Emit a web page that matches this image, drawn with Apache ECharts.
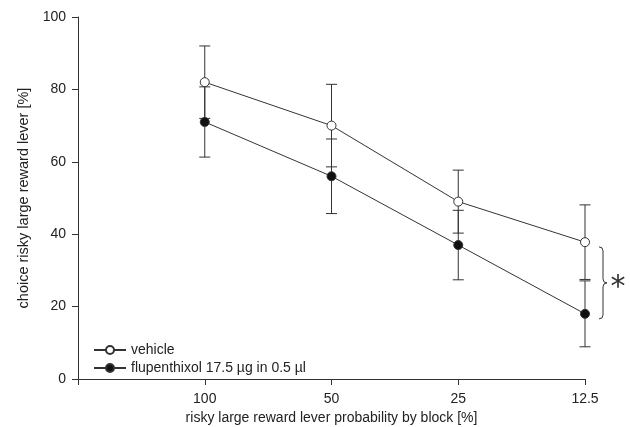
<!DOCTYPE html>
<html>
<head>
<meta charset="utf-8">
<script src="https://cdn.jsdelivr.net/npm/echarts@6/dist/echarts.min.js"></script>
<style>
  html, body { margin: 0; padding: 0; background: #fff; }
  #main { width: 630px; height: 427px; }
</style>
</head>
<body>
<div id="main"></div>
<script>
// probability blocks (x positions 1..4, 0 is left empty)
const probLabels = ['100', '50', '25', '12.5']
const vehicle = [82, 70, 49, 37.8]
const vehicleErr = [10, 11.4, 8.7, 10.3]
const flupenthixol = [71, 56, 37, 18]
const flupenthixolErr = [9.7, 10.3, 9.6, 9.1]
const yTicks = [0, 20, 40, 60, 80, 100]

const ink = '#333'
const font = 'Liberation Sans, Arial, sans-serif'

const pts = arr => arr.map((v, i) => [i + 1, v])
const errData = (vals, errs) => vals.map((v, i) => [i + 1, v - errs[i], v + errs[i]])

function errorBar(params, api) {
  const x = api.value(0)
  const lo = api.coord([x, api.value(1)])
  const hi = api.coord([x, api.value(2)])
  const w = 5.5
  const style = { stroke: ink, lineWidth: 1 }
  return {
    type: 'group',
    children: [
      { type: 'line', shape: { x1: lo[0], y1: lo[1], x2: hi[0], y2: hi[1] }, style },
      { type: 'line', shape: { x1: lo[0] - w, y1: lo[1], x2: lo[0] + w, y2: lo[1] }, style },
      { type: 'line', shape: { x1: hi[0] - w, y1: hi[1], x2: hi[0] + w, y2: hi[1] }, style }
    ]
  }
}

const myChart = echarts.init(document.getElementById('main'))
const option = {
  animation: false,
  textStyle: { fontFamily: font },
  grid: { left: 78, right: 45, top: 17, bottom: 48, outerBoundsMode: 'none' },
  legend: {
    orient: 'vertical',
    left: 88,
    top: 338,
    itemWidth: 32,
    itemHeight: 10,
    itemGap: 4,
    textStyle: { fontSize: 14, color: '#222', fontFamily: font },
    data: ['vehicle', 'flupenthixol 17.5 µg in 0.5 µl']
  },
  xAxis: {
    type: 'value',
    min: 0,
    max: 4,
    interval: 1,
    splitLine: { show: false },
    axisLine: { lineStyle: { color: ink, width: 1 } },
    axisTick: { length: 6, lineStyle: { color: ink } },
    axisLabel: {
      color: '#222', fontSize: 14, margin: 13,
      formatter: v => (v === 0 ? '' : probLabels[v - 1])
    },
    name: 'risky large reward lever probability by block [%]',
    nameLocation: 'middle',
    nameGap: 32,
    nameTextStyle: { color: '#222', fontSize: 14 }
  },
  yAxis: {
    type: 'value',
    min: yTicks[0],
    max: yTicks[yTicks.length - 1],
    interval: 20,
    splitLine: { show: false },
    axisLine: { show: true, lineStyle: { color: ink, width: 1 } },
    axisTick: { show: true, length: 6, lineStyle: { color: ink } },
    axisLabel: { color: '#222', fontSize: 14, margin: 12 },
    name: 'choice risky large reward lever [%]',
    nameLocation: 'middle',
    nameGap: 47,
    nameTextStyle: { color: '#222', fontSize: 14.5 }
  },
  series: [
    {
      type: 'custom',
      name: 'vehicle err',
      renderItem: errorBar,
      data: errData(vehicle, vehicleErr),
      z: 1
    },
    {
      type: 'custom',
      name: 'flup err',
      renderItem: errorBar,
      data: errData(flupenthixol, flupenthixolErr),
      z: 1
    },
    {
      type: 'line',
      name: 'vehicle',
      data: pts(vehicle),
      symbol: 'circle',
      symbolSize: 9,
      lineStyle: { color: ink, width: 1 },
      itemStyle: { color: '#fff', borderColor: ink, borderWidth: 1 },
      z: 3
    },
    {
      type: 'line',
      name: 'flupenthixol 17.5 µg in 0.5 µl',
      data: pts(flupenthixol),
      symbol: 'circle',
      symbolSize: 9,
      lineStyle: { color: ink, width: 1 },
      itemStyle: { color: '#111', borderColor: ink, borderWidth: 1 },
      z: 3
    }
  ]
}
myChart.setOption(option)

// significance brace beside the last block
const last = probLabels.length
const braceTop = myChart.convertToPixel({ gridIndex: 0 }, [last, vehicle[last - 1] - 1.3])
const braceBot = myChart.convertToPixel({ gridIndex: 0 }, [last, flupenthixol[last - 1] - 1.4])
const bx = braceTop[0] + 14
const y0 = braceTop[1]
const y1 = braceBot[1]
const ym = (y0 + y1) / 2
const bs = { stroke: ink, lineWidth: 1, fill: null }
myChart.setOption({
  graphic: [
    { type: 'bezierCurve', shape: { x1: bx, y1: y0, cpx1: bx + 4, cpy1: y0, x2: bx + 4, y2: y0 + 4 }, style: bs },
    { type: 'line', shape: { x1: bx + 4, y1: y0 + 4, x2: bx + 4, y2: ym - 4 }, style: bs },
    { type: 'bezierCurve', shape: { x1: bx + 4, y1: ym - 4, cpx1: bx + 4, cpy1: ym, x2: bx + 8, y2: ym }, style: bs },
    { type: 'bezierCurve', shape: { x1: bx + 8, y1: ym, cpx1: bx + 4, cpy1: ym, x2: bx + 4, y2: ym + 4 }, style: bs },
    { type: 'line', shape: { x1: bx + 4, y1: ym + 4, x2: bx + 4, y2: y1 - 4 }, style: bs },
    { type: 'bezierCurve', shape: { x1: bx + 4, y1: y1 - 4, cpx1: bx + 4, cpy1: y1, x2: bx, y2: y1 }, style: bs },
    {
      type: 'text',
      x: bx + 19,
      y: ym + 5,
      style: {
        text: '*', fontSize: 30, fill: '#333', fontFamily: 'DejaVu Sans, sans-serif',
        align: 'center', verticalAlign: 'middle'
      }
    }
  ]
})
</script>
</body>
</html>
